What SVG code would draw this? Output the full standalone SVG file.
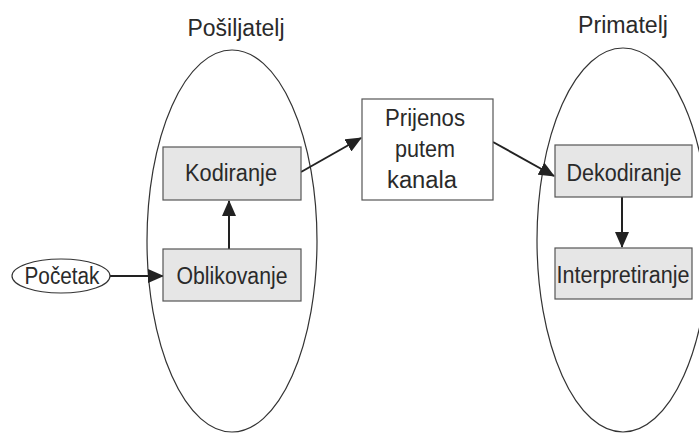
<svg xmlns="http://www.w3.org/2000/svg" width="699" height="434" viewBox="0 0 699 434">
<style>
text{font-family:"Liberation Sans Narrow","Liberation Sans",Arial,sans-serif;font-size:23px;fill:#2a2a2a;text-anchor:middle}
.grp{fill:none;stroke:#333;stroke-width:1.2}
.box{fill:#e6e6e6;stroke:#555;stroke-width:1.2}
.wbox{fill:#fff;stroke:#555;stroke-width:1.2}
.edge{stroke:#222;stroke-width:2;fill:none;marker-end:url(#ah)}
</style>
<defs>
<marker id="ah" markerUnits="userSpaceOnUse" markerWidth="16" markerHeight="14" refX="15" refY="7" orient="auto">
<path d="M0,0 L16,7 L0,14 z" fill="#222"/>
</marker>
</defs>
<rect width="699" height="434" fill="#fff"/>
<g id="sender">
<ellipse class="grp" cx="232" cy="241" rx="85" ry="191"/>
<text x="236" y="36" textLength="97" lengthAdjust="spacingAndGlyphs">Pošiljatelj</text>
</g>
<g id="receiver">
<ellipse class="grp" cx="623" cy="240" rx="86" ry="192"/>
<text x="623" y="33" textLength="90" lengthAdjust="spacingAndGlyphs">Primatelj</text>
</g>
<g id="connectors">
<line class="edge" x1="110" y1="276" x2="163" y2="276"/>
<line class="edge" x1="229" y1="249" x2="229" y2="201"/>
<line class="edge" x1="301" y1="172" x2="361" y2="138"/>
<line class="edge" x1="493" y1="142" x2="554" y2="176"/>
<line class="edge" x1="622" y1="197" x2="622" y2="247"/>
</g>
<g id="pocetak">
<ellipse cx="61" cy="276" rx="49" ry="17" fill="#fff" stroke="#333" stroke-width="1.2"/>
<text x="62" y="284" textLength="75" lengthAdjust="spacingAndGlyphs">Početak</text>
</g>
<g id="kodiranje">
<rect class="box" x="163" y="147" width="138" height="53"/>
<text x="231" y="181" textLength="92" lengthAdjust="spacingAndGlyphs">Kodiranje</text>
</g>
<g id="oblikovanje">
<rect class="box" x="163" y="249" width="138" height="52"/>
<text x="232" y="284" textLength="111" lengthAdjust="spacingAndGlyphs">Oblikovanje</text>
</g>
<g id="prijenos">
<rect class="wbox" x="362" y="99" width="131" height="101"/>
<text x="425" y="126" textLength="80" lengthAdjust="spacingAndGlyphs">Prijenos</text>
<text x="425" y="157" textLength="60" lengthAdjust="spacingAndGlyphs">putem</text>
<text x="422" y="188" textLength="70" lengthAdjust="spacingAndGlyphs">kanala</text>
</g>
<g id="dekodiranje">
<rect class="box" x="555" y="145" width="137" height="52"/>
<text x="624" y="181" textLength="115" lengthAdjust="spacingAndGlyphs">Dekodiranje</text>
</g>
<g id="interpretiranje">
<rect class="box" x="555" y="248" width="137" height="51"/>
<text x="623" y="283" textLength="133" lengthAdjust="spacingAndGlyphs">Interpretiranje</text>
</g>
</svg>
